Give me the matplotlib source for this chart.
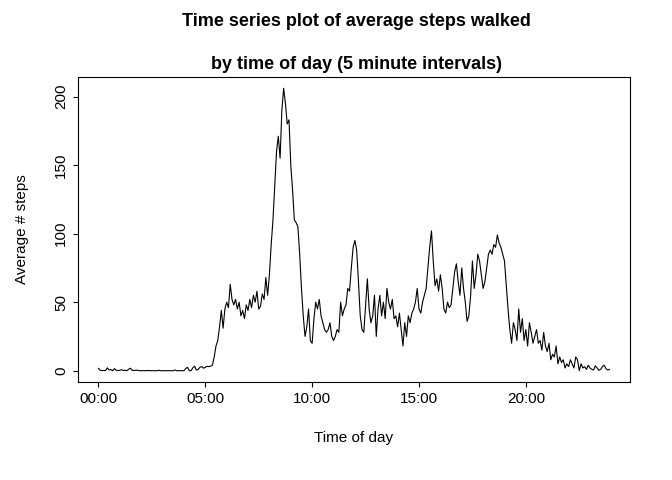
import numpy as np
import matplotlib
matplotlib.use('Agg')
import matplotlib.pyplot as plt

plt.rcParams['font.family'] = ['Liberation Sans', 'DejaVu Sans']

# average steps per 5-minute interval, one row per hour
steps_by_hour = [
    [1.7, 0.3, 0.1, 0.2, 0.1, 2.1, 0.5, 0.9, 0, 1.5, 0.3, 0.1],
    [0.3, 0.7, 0.2, 0.3, 0, 1.1, 1.8, 0.2, 0.2, 0.4, 0.3, 0],
    [0, 0, 0, 0, 0.2, 0, 0, 0, 0, 0, 0.3, 0],
    [0, 0, 0, 0, 0, 0, 0, 0.5, 0, 0, 0, 0],
    [0, 1.5, 2.5, 0, 0, 2.1, 3.3, 0.5, 0.9, 2.5, 3.0, 1.8],
    [2.5, 3.2, 3.0, 3.3, 4.1, 10, 18, 22, 32, 44, 31, 45],
    [50, 46, 63, 52, 48, 52, 45, 50, 40, 44, 38, 48],
    [44, 52, 46, 55, 50, 58, 45, 47, 56, 52, 68, 55],
    [70, 92, 110, 135, 160, 171, 155, 190, 206, 195, 180, 183],
    [150, 132, 110, 108, 105, 85, 60, 40, 25, 32, 45, 22],
    [20, 38, 50, 45, 52, 40, 35, 30, 28, 30, 35, 25],
    [22, 25, 30, 28, 50, 40, 45, 48, 60, 58, 75, 90],
    [95, 88, 65, 40, 30, 28, 48, 67, 45, 35, 40, 55],
    [25, 45, 55, 40, 50, 38, 60, 50, 45, 52, 38, 40],
    [32, 42, 30, 18, 35, 25, 40, 35, 42, 45, 50, 60],
    [45, 42, 50, 55, 60, 75, 90, 102, 80, 62, 67, 58],
    [70, 60, 45, 42, 50, 46, 48, 60, 72, 78, 65, 55],
    [75, 60, 50, 36, 40, 55, 80, 60, 70, 85, 80, 70],
    [60, 65, 75, 85, 88, 85, 92, 90, 99, 93, 90, 85],
    [80, 62, 45, 30, 20, 35, 30, 22, 45, 28, 38, 22],
    [30, 18, 35, 28, 20, 25, 30, 20, 22, 15, 28, 18],
    [14, 20, 8, 12, 10, 18, 5, 10, 6, 8, 2, 5],
    [3, 8, 5, 2, 10, 8, 0, 5, 2, 3, 1, 4],
    [2, 1, 0.5, 3.5, 2, 0.3, 1, 3, 4, 1.5, 0.5, 1],
]
steps = np.concatenate(steps_by_hour)
hours = np.arange(len(steps)) * 5 / 60.0

tick_hours = [0, 5, 10, 15, 20]
tick_labels = ['00:00', '05:00', '10:00', '15:00', '20:00']

fig = plt.figure(figsize=(6.72, 4.8), dpi=100)
ax = fig.add_axes([78 / 672, 1 - 382 / 480, 552 / 672, 305 / 480])
ax.plot(hours, steps, 'k-', lw=0.8)
span = hours[-1]
ax.set_xlim(-0.04 * span, span * 1.04)
ax.set_ylim(-0.04 * 206, 206 * 1.04)
ax.set_xticks(tick_hours)
ax.set_xticklabels(tick_labels)
ax.set_yticks([0, 50, 100, 150, 200])
for t in ax.get_yticklabels():
    t.set_rotation(90)
    t.set_va('center')
ax.tick_params(labelsize=11)
ax.set_xlabel('Time of day', fontsize=11, labelpad=18)
ax.set_ylabel('Average # steps', fontsize=11, labelpad=18)
fig.text(0.53, 0.955, 'Time series plot of average steps walked', ha='center',
         va='center', fontsize=13, fontweight='bold')
fig.text(0.53, 0.865, 'by time of day (5 minute intervals)', ha='center',
         va='center', fontsize=13, fontweight='bold')
fig.savefig('out.png')
